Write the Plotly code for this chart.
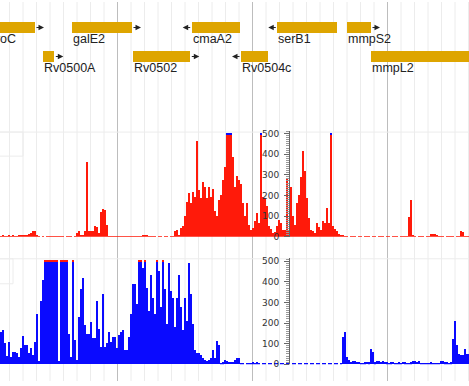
import math
import plotly.graph_objects as go

# ---------------- data ----------------
START_BP = 587824          # left edge of the view (bp)
END_BP = 596509            # right edge of the view (bp)
BIN_BP = 37.04             # coverage bin width (bp)
CLIP = 500                 # coverage axis maximum

gene_names = ["proC", "galE2", "cmaA2", "serB1", "mmpS2",
              "Rv0500A", "Rv0502", "Rv0504c", "mmpL2"]
gene_start = [587595, 589163, 591374, 592959, 594244,
              588615, 590292, 592287, 594694]
gene_end = [588472, 590268, 592268, 594070, 594694,
            588830, 591348, 592781, 597800]
gene_strand = ["+", "+", "-", "-", "+", "+", "+", "-", "+"]
gene_row = [1, 1, 1, 1, 1, 2, 2, 2, 2]

top_cov = [
    6, 8, 5, 7, 9, 6, 8, 5, 7, 8,
    10, 12, 11, 10, 14, 19, 27, 28, 11,
    3, 0, 2, 0, 3, 2,
    6, 5, 7, 6, 5,
    3, 4, 0, 3, 2,
    3, 0, 3, 20, 27, 11, 12, 30, 365, 28,
    27, 30, 56, 50, 19, 120, 135, 130, 60,
    3, 2, 4, 3, 2,
    6, 5, 7, 6, 5,
    2, 3, 2,
    3, 2, 4, 3, 11, 12, 10, 3, 2, 3,
    2, 0, 2, 3, 0, 2, 1, 0, 2, 3,
    29, 35, 8, 45, 52, 100, 170, 216, 163, 219,
    195, 465, 227, 187, 267, 243, 187, 243, 195, 235,
    124, 100, 179, 203, 275, 338, 520, 520, 520, 386,
    243, 298, 275, 257, 163, 100, 163, 60, 36, 44,
    76, 116, 68, 520, 195, 190, 150, 52, 40, 20,
    25, 52, 84, 70, 36, 36, 282, 36, 243, 100,
    60, 163, 203, 290, 417, 322, 187, 92, 36, 30,
    20, 68, 50, 36, 76, 68, 140, 68, 520, 52,
    40, 30, 13, 10, 8,
    4, 3, 0, 3, 2, 4, 0, 3, 3, 0, 2, 4, 3, 0, 3, 2,
    0, 3, 4, 2, 0, 3, 3, 0, 2, 3, 4, 0, 3, 2, 3, 4,
    95, 178, 10,
    3, 0, 3, 2, 4, 0, 3, 3,
    15, 14, 16, 12,
    4, 3, 5, 0, 4, 3, 4, 5, 0, 3, 4,
    28, 26, 5, 4, 6,
]

bottom_cov = [
    155, 165, 100, 40, 108, 36, 60, 60, 55, 36,
    76, 135, 92, 90, 52, 76, 44, 108, 243, 13,
    306, 409, 520, 520, 520, 520, 520, 520, 520, 13,
    520, 520, 520, 520, 148, 36, 520, 116, 20, 227,
    362, 417, 187, 148, 148, 203, 124, 124, 306, 171,
    84, 338, 84, 100, 155, 108, 132, 132, 76, 140,
    155, 163, 68, 68, 132, 243, 386, 386, 290, 520,
    520, 465, 520, 370, 259, 433, 322, 243, 520, 449,
    275, 520, 362, 195, 489, 354, 322, 179, 322, 433,
    275, 163, 322, 211, 490, 338, 195, 68, 52, 55,
    44, 29, 20, 15, 20, 30, 67, 27, 114, 90,
    3, 8, 19, 15, 11, 10, 12, 19, 27, 27,
    5, 2, 0, 2, 1, 2, 8, 7, 8,
    2, 0, 2, 1, 0, 2, 2, 0, 1, 2, 0, 2, 2, 0, 1, 2, 0, 2, 2, 0, 1,
    2, 0, 2, 2, 0, 1, 2, 0, 2, 2, 0, 1, 2, 0, 2, 2, 0, 1, 2, 0, 3,
    130, 157, 35, 19, 11, 14, 14, 11, 11, 6,
    6, 8, 11, 8, 71, 59, 8,
    14, 14, 11, 14, 11, 8,
    6, 8, 11, 6, 6, 8, 6, 11, 8, 6, 6, 8,
    14, 14, 12, 14,
    6, 6, 5, 6, 6, 8, 6, 5, 6, 6,
    14, 14, 8, 8, 7, 8,
    120, 209, 90, 51, 43, 43, 75, 51, 51,
]

cov_ticks = [0, 100, 200, 300, 400, 500]

# ---------------- styles ----------------
RED = "#FF1A0A"
BLUE = "#0A0AFF"
GOLD = "#DEA500"
W, H = 469, 386
CAP_BASE = 494
CAP_H = 12
ARROW_BP = 167
LABEL_DY = 0.39

fig = go.Figure()

xs = [START_BP + (i + 0.5) * BIN_BP for i in range(len(top_cov))]
xs_b = [START_BP + (i + 0.5) * BIN_BP for i in range(len(bottom_cov))]


def add_cov(xv, vals, color, capcolor, yax):
    fig.add_trace(go.Bar(x=xv, y=[min(v, CLIP) for v in vals], width=BIN_BP,
                         marker=dict(color=color, line=dict(width=0)),
                         xaxis="x", yaxis=yax, hoverinfo="skip"))
    fig.add_trace(go.Bar(x=xv, y=[CAP_H if v > CLIP else None for v in vals],
                         base=CAP_BASE, width=BIN_BP,
                         marker=dict(color=capcolor, line=dict(width=0)),
                         xaxis="x", yaxis=yax, hoverinfo="skip"))


add_cov(xs, top_cov, RED, BLUE, "y")
add_cov(xs_b, bottom_cov, BLUE, RED, "y2")

# genes
fig.add_trace(go.Bar(orientation="h", y=gene_row,
                     x=[e - s for s, e in zip(gene_start, gene_end)],
                     base=gene_start, width=0.39,
                     marker=dict(color=GOLD, line=dict(width=0)),
                     xaxis="x", yaxis="y3", hoverinfo="skip"))

anns = []
for name, s, e, st, r in zip(gene_names, gene_start, gene_end, gene_strand, gene_row):
    # gene label (paper x so labels that start left of the view stay drawn, clipped by the page)
    anns.append(dict(x=(s - START_BP) / (END_BP - START_BP), xref="paper",
                     y=r + LABEL_DY, yref="y3", text=name, showarrow=False,
                     xanchor="left", yanchor="middle", borderpad=0,
                     font=dict(family="Liberation Sans, Arial", size=12.5,
                               color="#222")))
    tail = e if st == "+" else s
    head = tail + ARROW_BP if st == "+" else tail - ARROW_BP
    anns.append(dict(x=head, y=r, ax=tail, ay=r, xref="x", yref="y3",
                     axref="x", ayref="y3", text="", showarrow=True,
                     arrowhead=2, arrowsize=1.1, arrowwidth=1,
                     arrowcolor="#222", standoff=0, startstandoff=0))

# vertical grid
shapes = []
g = math.ceil(START_BP / 250) * 250
while g < END_BP:
    major = (g % 2500 == 0)
    shapes.append(dict(type="line", xref="x", yref="paper", x0=g, x1=g,
                       y0=0, y1=1, layer="below",
                       line=dict(color="#bdbdbd" if major else "#ececec", width=1)))
    g += 250


def py(px):
    return 1 - px / H


# faint track frames
for top, bw, bh in [(132.5, 23, 157), (261.5, 13, 287)]:
    shapes.append(dict(type="line", xref="paper", yref="paper", x0=0, x1=1,
                       y0=py(top), y1=py(top), layer="below",
                       line=dict(color="#ececec", width=1)))
    shapes.append(dict(type="rect", xref="paper", yref="paper", x0=-0.01,
                       x1=bw / W, y0=py(bh), y1=py(top), layer="below",
                       line=dict(color="#ececec", width=1)))

axis_common = dict(
    range=[0, 514.3], anchor="free", position=289 / W, side="left",
    tickvals=cov_ticks, ticks="outside", ticklen=5, tickwidth=1,
    tickcolor="#666", showline=True, linecolor="#666", linewidth=1,
    showgrid=False, zeroline=False, fixedrange=True, ticklabelstandoff=3,
    tickfont=dict(family="DejaVu Sans", size=9, color="#333"),
    minor=dict(ticks="outside", ticklen=3, tickcolor="#999", dtick=10,
               tick0=0, showgrid=False),
)

fig.update_layout(
    width=W, height=H, margin=dict(l=0, r=0, t=0, b=0),
    paper_bgcolor="white", plot_bgcolor="rgba(0,0,0,0)",
    showlegend=False, barmode="overlay", bargap=0,
    xaxis=dict(range=[START_BP, END_BP], domain=[0, 1], anchor="y",
               visible=False, fixedrange=True),
    yaxis=dict(domain=[py(239), py(131)], **axis_common),
    yaxis2=dict(domain=[py(369), py(261)], **axis_common),
    yaxis3=dict(domain=[py(90), 1], range=[3.169, 0.1186], visible=False,
                fixedrange=True),
    shapes=shapes, annotations=anns,
)

fig.write_html("out.html", config={"displayModeBar": False},
               post_script="document.body.style.margin='0px';"
                           "document.body.style.overflow='hidden';")
